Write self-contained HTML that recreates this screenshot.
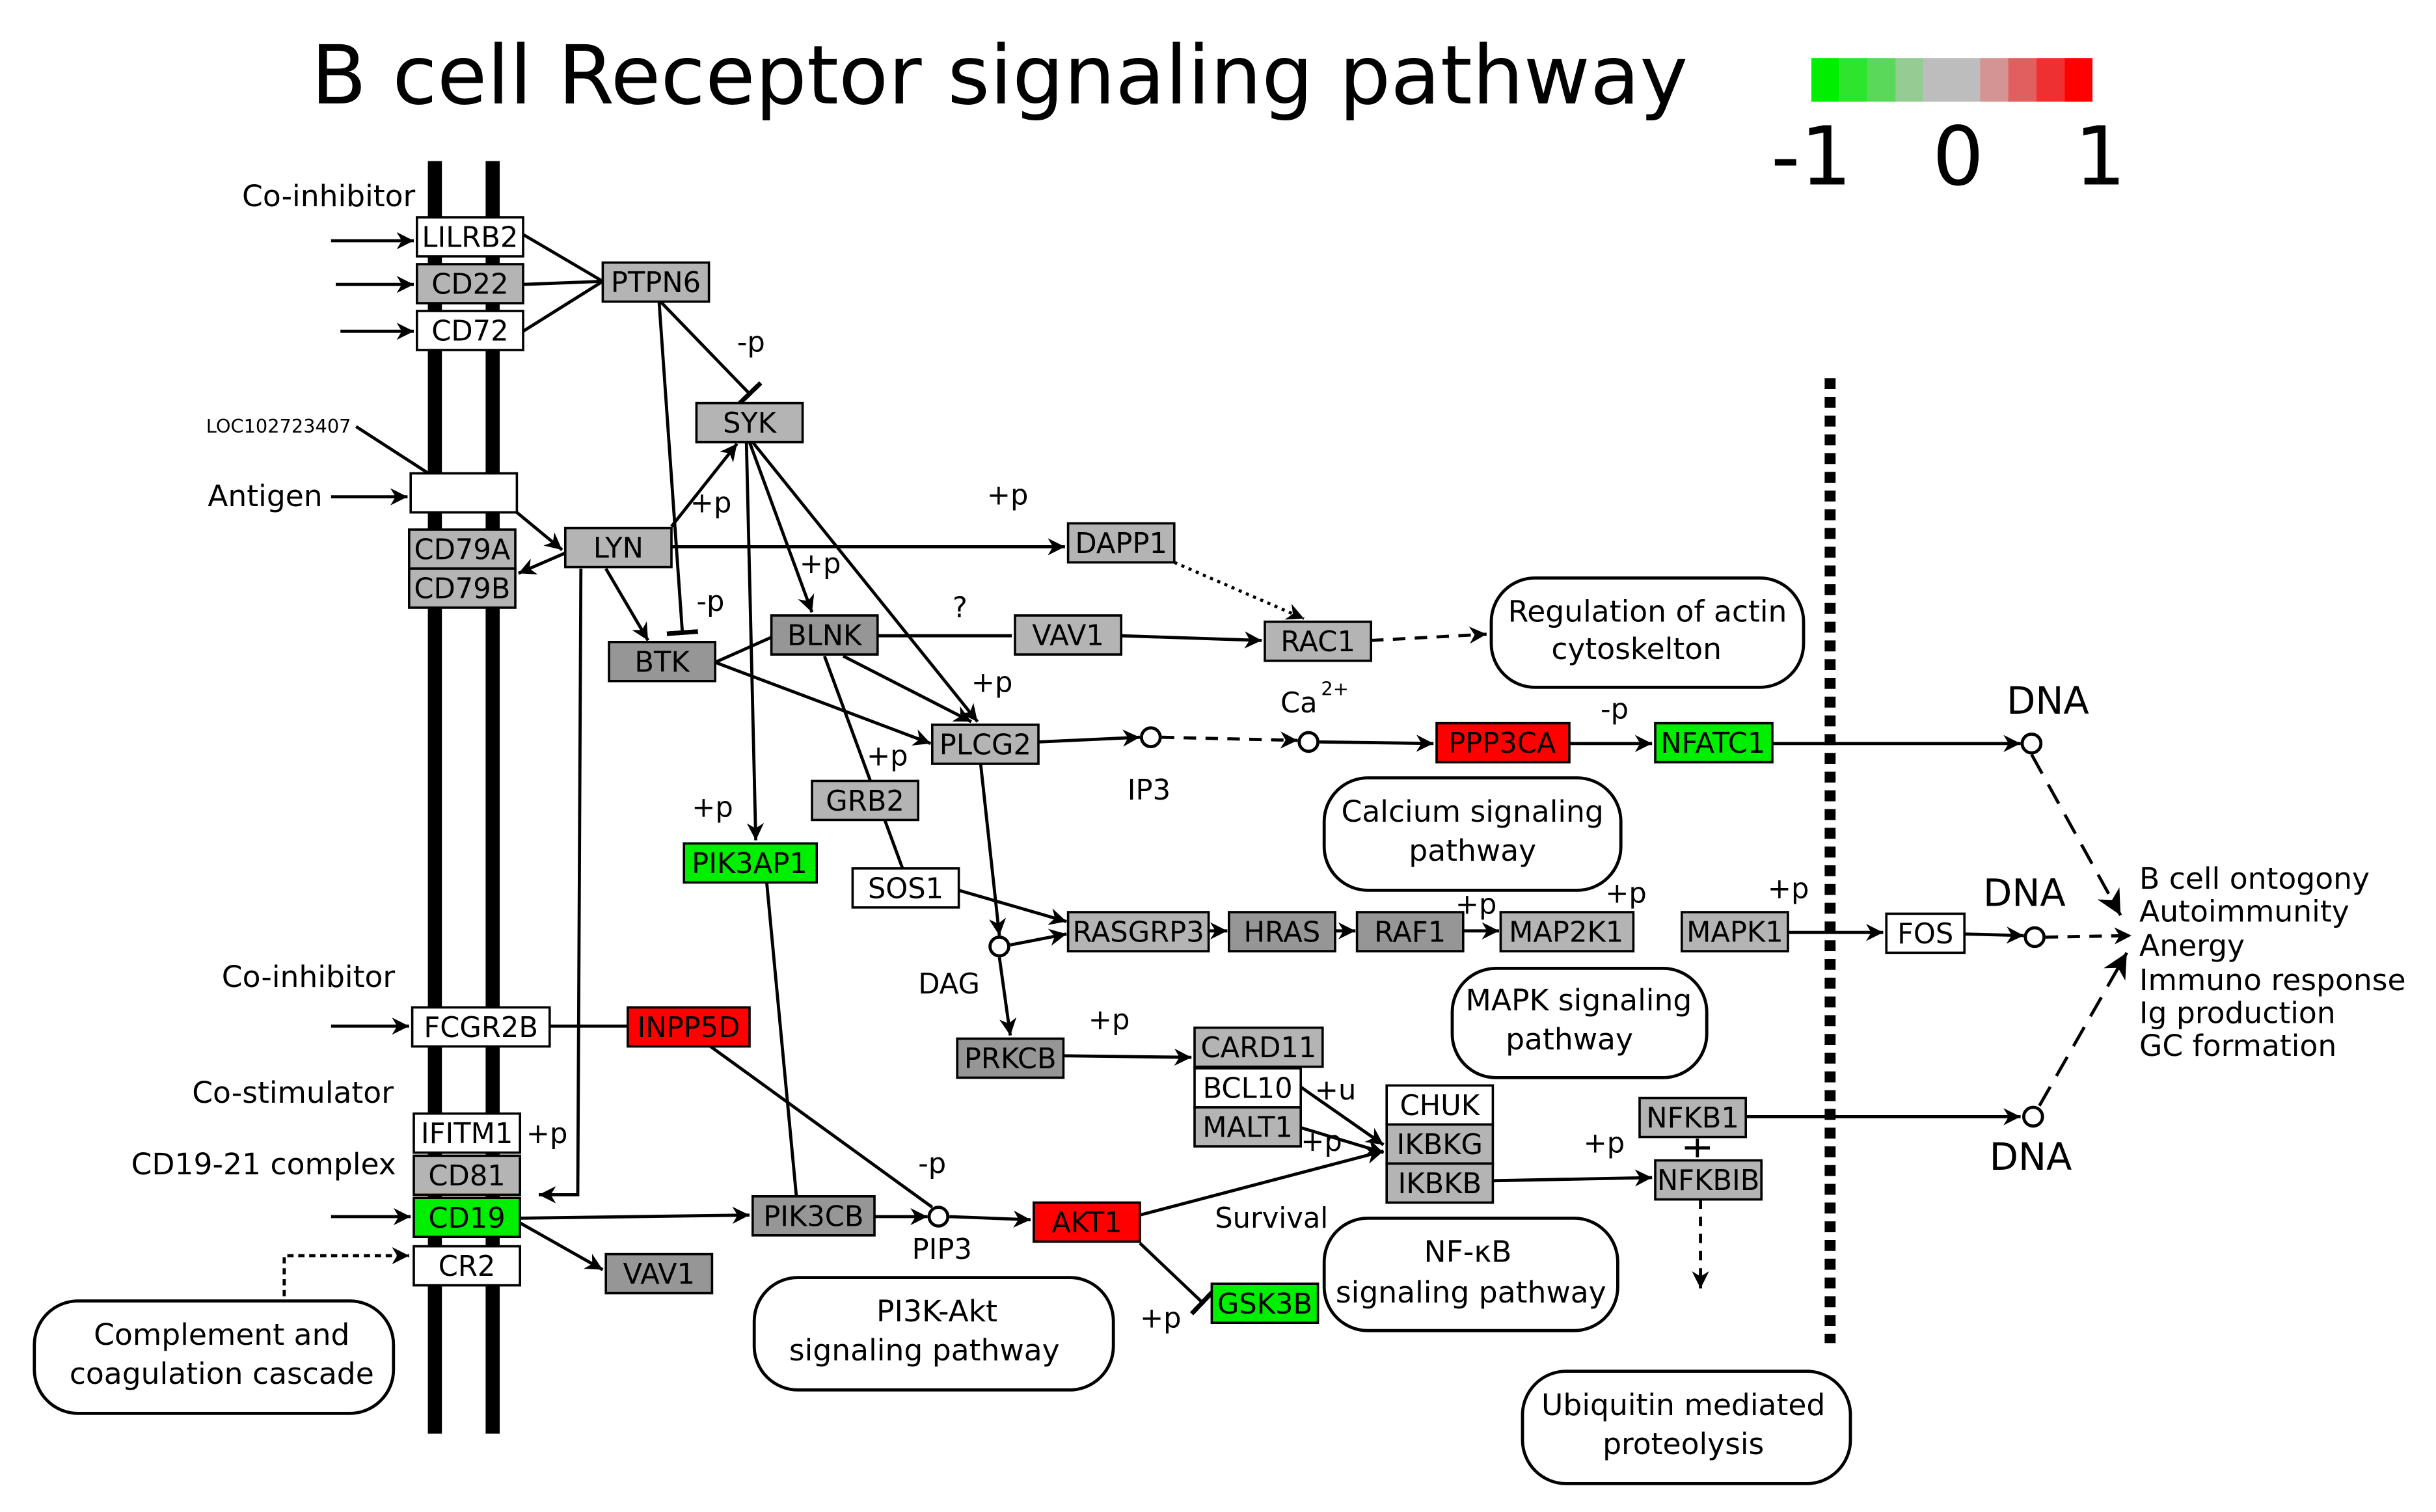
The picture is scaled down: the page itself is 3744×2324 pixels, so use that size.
<!DOCTYPE html>
<html><head><meta charset="utf-8"><style>html,body{margin:0;padding:0;background:#fff}svg{display:block}</style></head><body>
<svg xmlns="http://www.w3.org/2000/svg" width="3744" height="2324" viewBox="0 0 1560 968" font-family="DejaVu Sans, Liberation Sans, sans-serif">
<defs>
<marker id="a" viewBox="0 0 10 10" refX="10" refY="5" markerWidth="12" markerHeight="11" orient="auto" markerUnits="userSpaceOnUse"><path d="M0,0L10,5L0,10L3,5z" fill="#000"/></marker>
<marker id="A" viewBox="0 0 10 10" refX="10" refY="5" markerWidth="16" markerHeight="16" orient="auto" markerUnits="userSpaceOnUse"><path d="M0,0L10,5L0,10L3,5z" fill="#000"/></marker>
<marker id="T" viewBox="0 0 3 20" refX="1.5" refY="10" markerWidth="3" markerHeight="20" orient="auto" markerUnits="userSpaceOnUse"><rect x="0" y="0" width="3" height="20" fill="#000"/></marker>
</defs>
<rect width="1560" height="968" fill="#fff"/>
<text x="640" y="66" font-size="52" text-anchor="middle">B cell Receptor signaling pathway</text>
<g stroke="none">
<rect x="1160" y="37" width="18" height="28" fill="#00ee00"/><rect x="1178" y="37" width="18" height="28" fill="#2de52d"/><rect x="1196" y="37" width="18" height="28" fill="#5ad85a"/><rect x="1214" y="37" width="18" height="28" fill="#94cc94"/><rect x="1232" y="37" width="18" height="28" fill="#bdbdbd"/><rect x="1250" y="37" width="18" height="28" fill="#bdbdbd"/><rect x="1268" y="37" width="18" height="28" fill="#d49494"/><rect x="1286" y="37" width="18" height="28" fill="#e06060"/><rect x="1304" y="37" width="18" height="28" fill="#ee3030"/><rect x="1322" y="37" width="18" height="28" fill="#ff0000"/>
</g>
<text x="1160" y="118" font-size="52" text-anchor="middle">-1</text><text x="1254" y="118" font-size="52" text-anchor="middle">0</text><text x="1345" y="118" font-size="52" text-anchor="middle">1</text>
<rect x="274" y="103" width="9" height="815" fill="#000"/><rect x="311" y="103" width="9" height="815" fill="#000"/>
<line x1="1172" y1="242" x2="1172" y2="860" stroke="#000" stroke-width="7" stroke-dasharray="7,5"/>
<g stroke="#000" stroke-width="2" fill="none">
<line x1="212" y1="154" x2="265" y2="154" marker-end="url(#a)"/>
<line x1="215" y1="182" x2="265" y2="182" marker-end="url(#a)"/>
<line x1="218" y1="212" x2="265" y2="212" marker-end="url(#a)"/>
<line x1="212" y1="318" x2="261" y2="318" marker-end="url(#a)"/>
<polyline points="335,150 386,180 335,212"/><line x1="335" y1="182" x2="386" y2="180"/>
<line x1="422" y1="192" x2="480" y2="252" marker-end="url(#T)"/>
<line x1="422" y1="192" x2="437" y2="405" marker-end="url(#T)"/>
<line x1="228" y1="273" x2="293" y2="315"/>
<line x1="331" y1="328" x2="360" y2="352" marker-end="url(#a)"/>
<line x1="362" y1="354" x2="332" y2="367" marker-end="url(#a)"/>
<line x1="430" y1="337" x2="472" y2="284" marker-end="url(#a)"/>
<line x1="430" y1="350" x2="682" y2="350" marker-end="url(#a)"/>
<line x1="388" y1="364" x2="415" y2="410" marker-end="url(#a)"/>
<polyline points="372,364 370,765 345,765" marker-end="url(#a)"/>
<line x1="480" y1="283" x2="520" y2="392" marker-end="url(#a)"/>
<line x1="482" y1="283" x2="626" y2="462" marker-end="url(#a)"/>
<line x1="478" y1="283" x2="484" y2="538" marker-end="url(#a)"/>
<line x1="458" y1="424" x2="494" y2="408"/>
<line x1="458" y1="424" x2="596" y2="476" marker-end="url(#a)"/>
<line x1="562" y1="407" x2="648" y2="407"/>
<line x1="540" y1="420" x2="622" y2="462" marker-end="url(#a)"/>
<line x1="528" y1="420" x2="578" y2="556"/>
<line x1="718" y1="407" x2="808" y2="410" marker-end="url(#a)"/>
<line x1="752" y1="360" x2="835" y2="396" stroke-dasharray="2,3" marker-end="url(#a)"/>
<line x1="878" y1="410" x2="952" y2="406" stroke-dasharray="8,6" marker-end="url(#a)"/>
<line x1="665" y1="475" x2="730" y2="472" marker-end="url(#a)"/>
<line x1="744" y1="472" x2="831" y2="474" stroke-dasharray="8,6" marker-end="url(#a)"/>
<line x1="845" y1="475" x2="918" y2="476" marker-end="url(#a)"/>
<line x1="1005" y1="476" x2="1058" y2="476" marker-end="url(#a)"/>
<line x1="1135" y1="476" x2="1294" y2="476" marker-end="url(#a)"/>
<line x1="628" y1="489" x2="640" y2="599" marker-end="url(#a)"/>
<line x1="614" y1="570" x2="683" y2="590" marker-end="url(#a)"/>
<line x1="647" y1="605" x2="683" y2="598" marker-end="url(#a)"/>
<line x1="640" y1="613" x2="647" y2="663" marker-end="url(#a)"/>
<line x1="774" y1="596" x2="786" y2="596" marker-end="url(#a)"/>
<line x1="855" y1="596" x2="868" y2="596" marker-end="url(#a)"/>
<line x1="937" y1="596" x2="960" y2="596" marker-end="url(#a)"/>
<line x1="1145" y1="597" x2="1206" y2="597" marker-end="url(#a)"/>
<line x1="1258" y1="598" x2="1296" y2="599" marker-end="url(#a)"/>
<line x1="1310" y1="600" x2="1365" y2="599" stroke-dasharray="8,6" marker-end="url(#a)"/>
<line x1="1301" y1="483" x2="1358" y2="586" stroke-dasharray="14,8" marker-end="url(#A)"/>
<line x1="1306" y1="708" x2="1362" y2="610" stroke-dasharray="14,8" marker-end="url(#A)"/>
<line x1="491" y1="565" x2="510" y2="766"/>
<line x1="352" y1="657" x2="402" y2="657"/>
<line x1="455" y1="670" x2="597" y2="773"/>
<line x1="333" y1="780" x2="480" y2="778" marker-end="url(#a)"/>
<line x1="333" y1="783" x2="386" y2="813" marker-end="url(#a)"/>
<line x1="560" y1="779" x2="594" y2="779" marker-end="url(#a)"/>
<line x1="608" y1="779" x2="660" y2="781" marker-end="url(#a)"/>
<line x1="730" y1="778" x2="886" y2="737" marker-end="url(#a)"/>
<line x1="730" y1="796" x2="770" y2="834" marker-end="url(#T)"/>
<line x1="681" y1="676" x2="763" y2="677" marker-end="url(#a)"/>
<line x1="833" y1="696" x2="886" y2="733" marker-end="url(#a)"/>
<line x1="833" y1="722" x2="886" y2="738" marker-end="url(#a)"/>
<line x1="956" y1="756" x2="1058" y2="754" marker-end="url(#a)"/>
<line x1="1118" y1="715" x2="1294" y2="715" marker-end="url(#a)"/>
<line x1="1087" y1="729" x2="1087" y2="741"/><line x1="1079" y1="735" x2="1095" y2="735"/>
<line x1="1089" y1="768" x2="1089" y2="825" stroke-dasharray="6,5" marker-end="url(#a)"/>
<polyline points="182,830 182,804 262,804" stroke-dasharray="4,3" marker-end="url(#a)"/>
<line x1="212" y1="657" x2="262" y2="657" marker-end="url(#a)"/>
<line x1="212" y1="779" x2="263" y2="779" marker-end="url(#a)"/>
</g>
<g fill="#fff" stroke="#000" stroke-width="2">
<circle cx="737" cy="472" r="6"/><circle cx="838" cy="475" r="6"/><circle cx="640" cy="606" r="6"/><circle cx="601" cy="779" r="6"/>
<circle cx="1301" cy="476" r="6"/><circle cx="1303" cy="600" r="6"/><circle cx="1302" cy="715" r="6"/>
</g>
<g stroke="#000" stroke-width="1.5" font-size="18" text-anchor="middle">
<rect x="267" y="139" width="68" height="25" fill="#fff"/><text x="301" y="158" stroke="none">LILRB2</text>
<rect x="267" y="169" width="68" height="25" fill="#b4b4b4"/><text x="301" y="188" stroke="none">CD22</text>
<rect x="267" y="199" width="68" height="25" fill="#fff"/><text x="301" y="218" stroke="none">CD72</text>
<rect x="386" y="168" width="68" height="25" fill="#b4b4b4"/><text x="420" y="187" stroke="none">PTPN6</text>
<rect x="446" y="258" width="68" height="25" fill="#b4b4b4"/><text x="480" y="277" stroke="none">SYK</text>
<rect x="263" y="303" width="68" height="25" fill="#fff"/>
<rect x="262" y="339" width="68" height="25" fill="#b4b4b4"/><text x="296" y="358" stroke="none">CD79A</text>
<rect x="262" y="364" width="68" height="25" fill="#b4b4b4"/><text x="296" y="383" stroke="none">CD79B</text>
<rect x="362" y="338" width="68" height="25" fill="#b4b4b4"/><text x="396" y="357" stroke="none">LYN</text>
<rect x="684" y="335" width="68" height="25" fill="#b4b4b4"/><text x="718" y="354" stroke="none">DAPP1</text>
<rect x="390" y="411" width="68" height="25" fill="#969696"/><text x="424" y="430" stroke="none">BTK</text>
<rect x="494" y="394" width="68" height="25" fill="#969696"/><text x="528" y="413" stroke="none">BLNK</text>
<rect x="650" y="394" width="68" height="25" fill="#b4b4b4"/><text x="684" y="413" stroke="none">VAV1</text>
<rect x="810" y="398" width="68" height="25" fill="#b4b4b4"/><text x="844" y="417" stroke="none">RAC1</text>
<rect x="597" y="464" width="68" height="25" fill="#b4b4b4"/><text x="631" y="483" stroke="none">PLCG2</text>
<rect x="920" y="463" width="85" height="25" fill="#ff0000"/><text x="962" y="482" stroke="none">PPP3CA</text>
<rect x="1060" y="463" width="75" height="25" fill="#00ee00"/><text x="1097" y="482" stroke="none">NFATC1</text>
<rect x="520" y="500" width="68" height="25" fill="#b4b4b4"/><text x="554" y="519" stroke="none">GRB2</text>
<rect x="546" y="556" width="68" height="25" fill="#fff"/><text x="580" y="575" stroke="none">SOS1</text>
<rect x="438" y="540" width="85" height="25" fill="#00ee00"/><text x="480" y="559" stroke="none">PIK3AP1</text>
<rect x="684" y="584" width="90" height="25" fill="#b4b4b4"/><text x="729" y="603" stroke="none">RASGRP3</text>
<rect x="787" y="584" width="68" height="25" fill="#969696"/><text x="821" y="603" stroke="none">HRAS</text>
<rect x="869" y="584" width="68" height="25" fill="#969696"/><text x="903" y="603" stroke="none">RAF1</text>
<rect x="961" y="584" width="85" height="25" fill="#b4b4b4"/><text x="1003" y="603" stroke="none">MAP2K1</text>
<rect x="1077" y="584" width="68" height="25" fill="#b4b4b4"/><text x="1111" y="603" stroke="none">MAPK1</text>
<rect x="1208" y="585" width="50" height="25" fill="#fff"/><text x="1233" y="604" stroke="none">FOS</text>
<rect x="264" y="645" width="88" height="25" fill="#fff"/><text x="308" y="664" stroke="none">FCGR2B</text>
<rect x="402" y="645" width="78" height="25" fill="#ff0000"/><text x="441" y="664" stroke="none">INPP5D</text>
<rect x="765" y="658" width="82" height="25" fill="#b4b4b4"/><text x="806" y="677" stroke="none">CARD11</text>
<rect x="765" y="684" width="68" height="25" fill="#fff"/><text x="799" y="703" stroke="none">BCL10</text>
<rect x="765" y="709" width="68" height="25" fill="#b4b4b4"/><text x="799" y="728" stroke="none">MALT1</text>
<rect x="613" y="665" width="68" height="25" fill="#969696"/><text x="647" y="684" stroke="none">PRKCB</text>
<rect x="888" y="695" width="68" height="25" fill="#fff"/><text x="922" y="714" stroke="none">CHUK</text>
<rect x="888" y="720" width="68" height="25" fill="#b4b4b4"/><text x="922" y="739" stroke="none">IKBKG</text>
<rect x="888" y="745" width="68" height="25" fill="#b4b4b4"/><text x="922" y="764" stroke="none">IKBKB</text>
<rect x="1050" y="703" width="68" height="25" fill="#b4b4b4"/><text x="1084" y="722" stroke="none">NFKB1</text>
<rect x="1060" y="743" width="68" height="25" fill="#b4b4b4"/><text x="1094" y="762" stroke="none">NFKBIB</text>
<rect x="265" y="713" width="68" height="25" fill="#fff"/><text x="299" y="732" stroke="none">IFITM1</text>
<rect x="265" y="740" width="68" height="25" fill="#b4b4b4"/><text x="299" y="759" stroke="none">CD81</text>
<rect x="265" y="767" width="68" height="25" fill="#00ee00"/><text x="299" y="786" stroke="none">CD19</text>
<rect x="265" y="798" width="68" height="25" fill="#fff"/><text x="299" y="817" stroke="none">CR2</text>
<rect x="388" y="803" width="68" height="25" fill="#969696"/><text x="422" y="822" stroke="none">VAV1</text>
<rect x="482" y="766" width="78" height="25" fill="#969696"/><text x="521" y="785" stroke="none">PIK3CB</text>
<rect x="662" y="770" width="68" height="25" fill="#ff0000"/><text x="696" y="789" stroke="none">AKT1</text>
<rect x="776" y="822" width="68" height="25" fill="#00ee00"/><text x="810" y="841" stroke="none">GSK3B</text>
</g>
<g fill="#fff" stroke="#000" stroke-width="2">
<rect x="955" y="370" width="200" height="70" rx="28"/>
<rect x="848" y="498" width="190" height="72" rx="28"/>
<rect x="930" y="620" width="163" height="70" rx="28"/>
<rect x="848" y="780" width="188" height="72" rx="28"/>
<rect x="483" y="818" width="230" height="72" rx="28"/>
<rect x="22" y="833" width="230" height="72" rx="28"/>
<rect x="975" y="878" width="210" height="72" rx="28"/>
</g>
<g font-size="19" text-anchor="middle">
<text x="1055" y="398">Regulation of actin</text><text x="1048" y="422">cytoskelton</text>
<text x="943" y="526">Calcium signaling</text><text x="943" y="551">pathway</text>
<text x="1011" y="647">MAPK signaling</text><text x="1005" y="672">pathway</text>
<text x="940" y="808">NF-κB</text><text x="942" y="834">signaling pathway</text>
<text x="600" y="846">PI3K-Akt</text><text x="592" y="871">signaling pathway</text>
<text x="142" y="861">Complement and</text><text x="142" y="886">coagulation cascade</text>
<text x="1078" y="906">Ubiquitin mediated</text><text x="1078" y="931">proteolysis</text>
</g>
<g font-size="19">
<text x="155" y="132">Co-inhibitor</text>
<text x="133" y="324">Antigen</text>
<text x="142" y="632">Co-inhibitor</text>
<text x="123" y="706">Co-stimulator</text>
<text x="84" y="752">CD19-21 complex</text>
<text x="1370" y="569">B cell ontogony</text>
<text x="1370" y="590">Autoimmunity</text>
<text x="1370" y="612">Anergy</text>
<text x="1370" y="634">Immuno response</text>
<text x="1370" y="655">Ig production</text>
<text x="1370" y="676">GC formation</text>
<text x="1285" y="457" font-size="24">DNA</text>
<text x="1270" y="580" font-size="24">DNA</text>
<text x="1274" y="749" font-size="24">DNA</text>
<text x="722" y="512" font-size="18">IP3</text>
<text x="820" y="456" font-size="18">Ca</text><text x="846" y="445" font-size="12">2+</text>
<text x="588" y="636" font-size="18">DAG</text>
<text x="584" y="806" font-size="18">PIP3</text>
<text x="778" y="786" font-size="18">Survival</text>
<text x="472" y="225" font-size="18">-p</text>
<text x="632" y="323" font-size="18">+p</text>
<text x="442" y="328" font-size="18">+p</text>
<text x="512" y="367" font-size="18">+p</text>
<text x="446" y="391" font-size="18">-p</text>
<text x="610" y="395" font-size="18">?</text>
<text x="622" y="443" font-size="18">+p</text>
<text x="555" y="490" font-size="18">+p</text>
<text x="1025" y="460" font-size="18">-p</text>
<text x="443" y="523" font-size="18">+p</text>
<text x="932" y="585" font-size="18">+p</text>
<text x="1028" y="578" font-size="18">+p</text>
<text x="1132" y="575" font-size="18">+p</text>
<text x="697" y="659" font-size="18">+p</text>
<text x="842" y="704" font-size="18">+u</text>
<text x="833" y="737" font-size="18">+p</text>
<text x="1014" y="738" font-size="18">+p</text>
<text x="337" y="732" font-size="18">+p</text>
<text x="588" y="751" font-size="18">-p</text>
<text x="730" y="850" font-size="18">+p</text>
<text x="132" y="277" font-size="12">LOC102723407</text>
</g>
</svg>
</body></html>
